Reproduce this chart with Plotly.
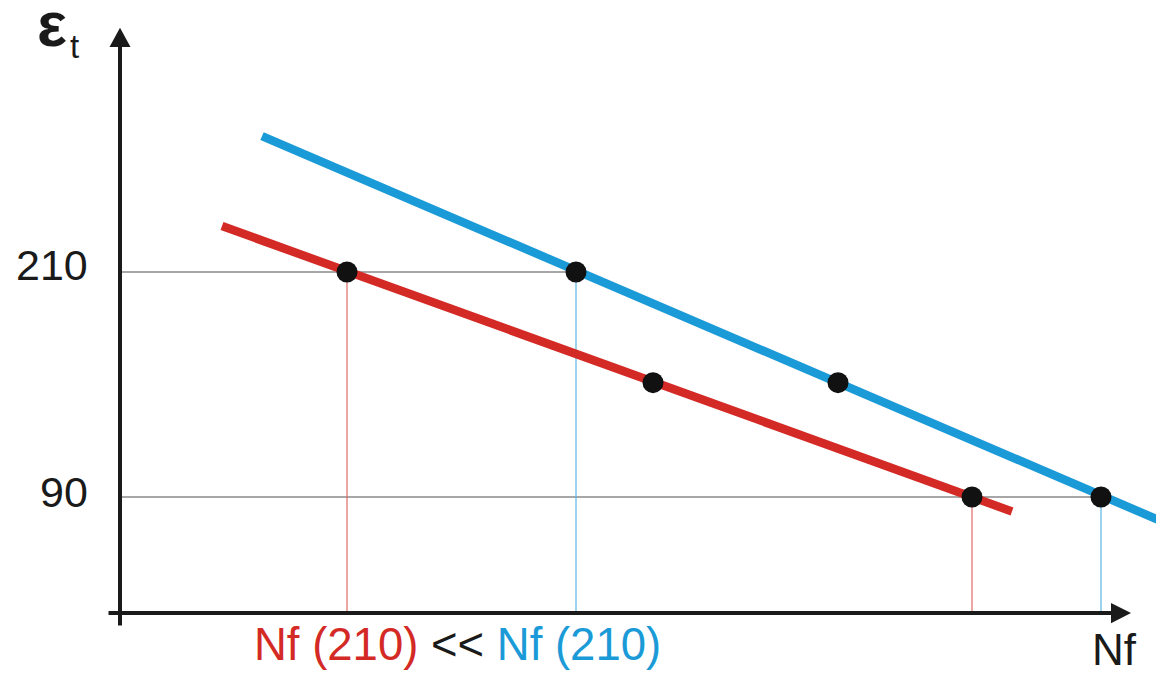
import plotly.graph_objects as go

# ---- data ----
levels = [210, 90]                      # strain amplitude levels (tick labels)
level_labels = ["210", "90"]

red_dots_x = [22.7, 53.3, 85.2]         # Nf positions, red material
red_dots_y = [210, 151, 90]
blue_dots_x = [45.6, 71.8, 98.1]        # Nf positions, blue material
blue_dots_y = [210, 151, 90]

red_line_x = [10.2, 89.2]
red_line_y = [234.5, 82.3]
blue_line_x = [14.2, 104.4]
blue_line_y = [282.5, 76.5]

axis_y0 = 28.1      # y value where the Nf axis sits
red_c = "#d42a26"
blue_c = "#1b9ad8"
ink = "#1a1a1a"

fig = go.Figure()

# guide lines: horizontal gray at each level up to the blue dot
for lv, bx in zip(levels, [blue_dots_x[0], blue_dots_x[2]]):
    fig.add_trace(go.Scatter(x=[0, bx], y=[lv, lv], mode="lines",
                             line=dict(color="#8a8a8a", width=1.6),
                             hoverinfo="skip", showlegend=False))
# vertical drop lines
for xs, ys, c in [([red_dots_x[0], red_dots_x[2]], [red_dots_y[0], red_dots_y[2]], "#e06a66"),
                  ([blue_dots_x[0], blue_dots_x[2]], [blue_dots_y[0], blue_dots_y[2]], "#5cb6e2")]:
    for x, y in zip(xs, ys):
        fig.add_trace(go.Scatter(x=[x, x], y=[y, axis_y0], mode="lines",
                                 line=dict(color=c, width=1.2),
                                 hoverinfo="skip", showlegend=False))

# main lines
fig.add_trace(go.Scatter(x=red_line_x, y=red_line_y, mode="lines",
                         line=dict(color=red_c, width=8.5), showlegend=False))
fig.add_trace(go.Scatter(x=blue_line_x, y=blue_line_y, mode="lines",
                         line=dict(color=blue_c, width=8.5), showlegend=False))
# dots
fig.add_trace(go.Scatter(x=red_dots_x + blue_dots_x, y=red_dots_y + blue_dots_y,
                         mode="markers", marker=dict(color="#111111", size=21),
                         showlegend=False))

# axes with arrows (decorations)
shapes = [
    dict(type="line", x0=0, x1=0, y0=21.5, y1=332, line=dict(color=ink, width=4)),
    dict(type="path", path="M -1.05,330 L 1.05,330 L 0,340.3 Z",
         fillcolor=ink, line=dict(color=ink, width=0)),
    dict(type="line", x0=-1.15, x1=99.5, y0=axis_y0, y1=axis_y0, line=dict(color=ink, width=4)),
    dict(type="path", path=f"M 99.1,{axis_y0-5.4} L 99.1,{axis_y0+5.4} L 101.1,{axis_y0} Z",
         fillcolor=ink, line=dict(color=ink, width=0)),
]

ann = []
# tick labels
for lv, lab, dy in zip(levels, level_labels, [3.5, 2.7]):
    ann.append(dict(x=-3.0, y=lv + dy, text=lab, showarrow=False, xanchor="right",
                    yanchor="middle", font=dict(size=43, color=ink)))
# y-axis title
ann.append(dict(x=-6.8, y=337.0, text="<b>ε</b>", showarrow=False, xanchor="center", yanchor="middle",
                height=50, valign="bottom",
                font=dict(size=63, color=ink)))
ann.append(dict(x=-4.6, y=330.5, text="t", showarrow=False, xanchor="center", yanchor="middle",
                font=dict(size=33, color=ink)))
# x-axis title
ann.append(dict(x=99.4, y=8.7, text="Nf", showarrow=False, xanchor="center", yanchor="middle",
                font=dict(size=44, color=ink)))
# comparison text
ann.append(dict(x=33.75, y=11.6, showarrow=False, xanchor="center", yanchor="middle",
                text=f"<span style='color:{red_c}'>Nf (210)</span> &lt;&lt; "
                     f"<span style='color:{blue_c}'>Nf (210)</span>",
                font=dict(size=45.5, color=ink)))

fig.update_layout(
    width=1164, height=675,
    margin=dict(l=0, r=0, t=0, b=0),
    paper_bgcolor="white", plot_bgcolor="white",
    font=dict(family="Liberation Sans, Arial, sans-serif"),
    xaxis=dict(range=[-11.2, 105.2], visible=False, fixedrange=True),
    yaxis=dict(range=[-9.2, 350.8], visible=False, fixedrange=True),
    shapes=shapes, annotations=ann,
)

fig.write_html("out.html")
